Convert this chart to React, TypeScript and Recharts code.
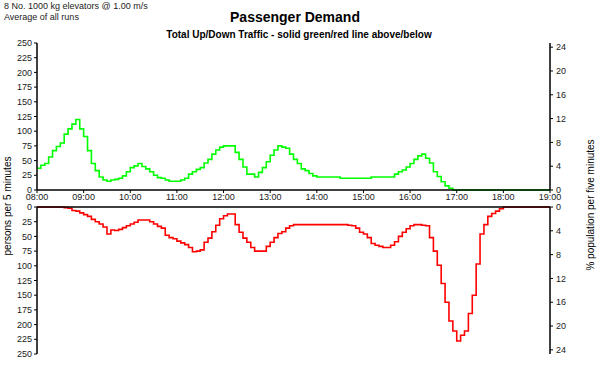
import React from 'react';
import { LineChart, Line, XAxis, YAxis } from 'recharts';

const hourLabels = [
    '08:00', '09:00', '10:00', '11:00', '12:00', '13:00',
    '14:00', '15:00', '16:00', '17:00', '18:00', '19:00',
];
const personTicks = [0, 25, 50, 75, 100, 125, 150, 175, 200, 225, 250];
const percentTicks = [0, 4, 8, 12, 16, 20, 24];

// persons per 5 minute interval, one row per hour (08:00 .. 18:55)
const upPersons = [
    37, 42, 45, 56, 67, 74, 80, 95, 104, 112, 120, 104,
    91, 67, 45, 33, 22, 17, 15, 17, 18, 20, 24, 31,
    38, 41, 45, 40, 36, 31, 25, 21, 20, 17, 15, 15,
    15, 17, 20, 27, 31, 35, 38, 46, 52, 61, 68, 73,
    75, 75, 75, 64, 52, 39, 27, 27, 22, 30, 38, 48,
    59, 68, 75, 73, 71, 61, 52, 45, 36, 33, 28, 24,
    22, 22, 22, 22, 22, 22, 20, 20, 20, 20, 20, 20,
    20, 20, 22, 22, 22, 22, 22, 22, 27, 31, 34, 39,
    45, 52, 58, 61, 54, 46, 31, 23, 14, 7, 3, 0,
    0, 0, 0, 0, 0, 0, 0, 0, 0, 0, 0, 0,
    0, 0, 0, 0, 0, 0, 0, 0, 0, 0, 0, 0,
];

const downPersons = [
    0, 0, 0, 0, 0, 0, 0, 1, 2, 6, 7, 10,
    13, 16, 21, 25, 29, 34, 46, 39, 40, 38, 35, 32,
    29, 26, 22, 22, 22, 25, 29, 33, 36, 48, 52, 54,
    58, 61, 64, 69, 76, 75, 73, 60, 53, 42, 31, 20,
    15, 12, 12, 30, 43, 53, 60, 69, 75, 75, 75, 67,
    60, 52, 45, 42, 36, 32, 30, 30, 30, 30, 30, 30,
    30, 30, 30, 30, 30, 30, 30, 30, 31, 32, 36, 43,
    46, 52, 62, 65, 67, 69, 69, 65, 59, 50, 43, 37,
    32, 30, 30, 31, 32, 52, 75, 99, 130, 162, 194, 211,
    228, 218, 211, 181, 150, 97, 46, 30, 16, 11, 7, 3,
    0, 0, 0, 0, 0, 0, 0, 0, 0, 0, 0, 0,
];

const STEP_MIN = 5;
const hourTicks = hourLabels.map((_, i) => i * 60);

const data = upPersons.map((up, i) => ({ t: i * STEP_MIN, up, down: downPersons[i] }));
// closing point so the last step runs to 19:00
data.push({
    t: upPersons.length * STEP_MIN,
    up: upPersons[upPersons.length - 1],
    down: downPersons[downPersons.length - 1],
});

const tickStyle = { fontSize: 9, fill: '#1a1a1a' };
const axisStroke = { stroke: '#000', strokeWidth: 1.5 };
const tickStroke = { stroke: '#000', strokeWidth: 1 };
const fmtHour = (v: number) => hourLabels[Math.round(v / 60)] ?? '';

export default function App() {
    return (
        <div
            style={{
                position: 'absolute',
                left: 0,
                top: 0,
                width: 602,
                height: 371,
                background: '#fff',
                fontFamily: '"Liberation Sans", Arial, sans-serif',
                color: '#222',
                overflow: 'hidden',
            }}
        >
            <div style={{ position: 'absolute', left: 4, top: 1, fontSize: 9, lineHeight: '11px' }}>
                8 No. 1000 kg elevators @ 1.00 m/s
                <br />
                Average of all runs
            </div>
            <div
                style={{
                    position: 'absolute', left: 0, width: 590, top: 9, textAlign: 'center',
                    fontSize: 14, fontWeight: 'bold', color: '#000',
                }}
            >
                Passenger Demand
            </div>
            <div
                style={{
                    position: 'absolute', left: 0, width: 598, top: 29, textAlign: 'center',
                    fontSize: 10, fontWeight: 'bold', color: '#000',
                }}
            >
                Total Up/Down Traffic - solid green/red line above/below
            </div>

            {/* upper half: up traffic */}
            <div style={{ position: 'absolute', left: 0, top: 0 }}>
                <LineChart width={602} height={210} data={data} margin={{ top: 43, right: 0, bottom: 0, left: 0 }}>
                    <XAxis
                        type="number"
                        dataKey="t"
                        domain={[0, 660]}
                        ticks={hourTicks}
                        interval={0}
                        tickFormatter={fmtHour}
                        height={20}
                        tickSize={3}
                        tickMargin={1}
                        tick={tickStyle}
                        axisLine={axisStroke}
                        tickLine={tickStroke}
                    />
                    <YAxis
                        yAxisId="persons"
                        domain={[0, 250]}
                        ticks={personTicks}
                        interval={0}
                        width={37}
                        tickSize={3}
                        tickMargin={2}
                        tick={tickStyle}
                        axisLine={axisStroke}
                        tickLine={tickStroke}
                    />
                    <YAxis
                        yAxisId="pct"
                        orientation="right"
                        domain={[0, 24.7]}
                        allowDataOverflow
                        ticks={percentTicks}
                        interval={0}
                        width={52}
                        tickSize={3}
                        tickMargin={3}
                        tick={tickStyle}
                        axisLine={axisStroke}
                        tickLine={tickStroke}
                    />
                    <Line
                        yAxisId="persons"
                        type="stepAfter"
                        dataKey="up"
                        stroke="#00ff00"
                        strokeWidth={1.6}
                        dot={false}
                        isAnimationActive={false}
                    />
                </LineChart>
            </div>

            {/* lower half: down traffic, drawn downwards */}
            <div style={{ position: 'absolute', left: 0, top: 0 }}>
                <LineChart width={602} height={371} data={data} margin={{ top: 206, right: 0, bottom: 17, left: 0 }}>
                    <XAxis
                        type="number"
                        dataKey="t"
                        orientation="top"
                        domain={[0, 660]}
                        ticks={hourTicks}
                        interval={0}
                        height={1}
                        tick={false}
                        tickSize={-3}
                        axisLine={axisStroke}
                        tickLine={tickStroke}
                    />
                    <YAxis
                        yAxisId="persons"
                        reversed
                        domain={[0, 250]}
                        ticks={personTicks}
                        interval={0}
                        width={37}
                        tickSize={3}
                        tickMargin={2}
                        tick={tickStyle}
                        axisLine={axisStroke}
                        tickLine={tickStroke}
                    />
                    <YAxis
                        yAxisId="pct"
                        orientation="right"
                        reversed
                        domain={[0, 24.7]}
                        allowDataOverflow
                        ticks={percentTicks}
                        interval={0}
                        width={52}
                        tickSize={3}
                        tickMargin={3}
                        tick={tickStyle}
                        axisLine={axisStroke}
                        tickLine={tickStroke}
                    />
                    <Line
                        yAxisId="persons"
                        type="stepAfter"
                        dataKey="down"
                        stroke="#ff0000"
                        strokeWidth={1.6}
                        dot={false}
                        isAnimationActive={false}
                    />
                </LineChart>
            </div>

            <div
                style={{
                    position: 'absolute', left: 7, top: 206, fontSize: 10, whiteSpace: 'nowrap',
                    transform: 'translate(-50%, -50%) rotate(-90deg)', color: '#000',
                }}
            >
                persons per 5 minutes
            </div>
            <div
                style={{
                    position: 'absolute', left: 590, top: 205, fontSize: 10, whiteSpace: 'nowrap',
                    transform: 'translate(-50%, -50%) rotate(-90deg)', color: '#000',
                }}
            >
                % population per five minutes
            </div>
        </div>
    );
}
